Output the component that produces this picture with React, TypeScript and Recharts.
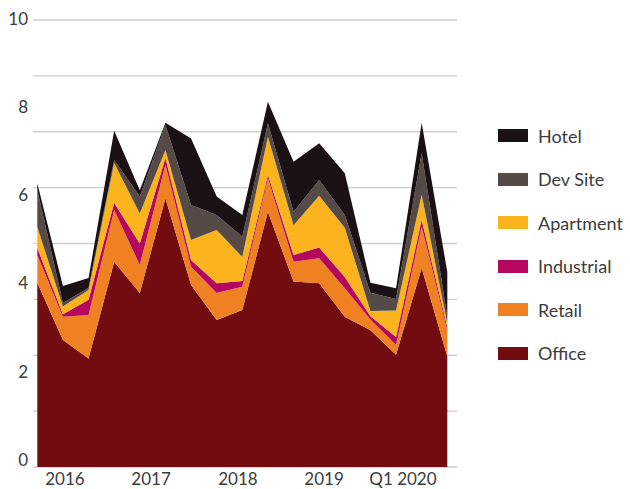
import React from "react";
import { AreaChart, Area, XAxis, YAxis, CartesianGrid } from "recharts";

const quarters = [
  "Q1 2016", "Q2 2016", "Q3 2016", "Q4 2016",
  "Q1 2017", "Q2 2017", "Q3 2017", "Q4 2017",
  "Q1 2018", "Q2 2018", "Q3 2018", "Q4 2018",
  "Q1 2019", "Q2 2019", "Q3 2019", "Q4 2019",
  "Q1 2020",
];
const office = [4.12, 2.84, 2.43, 4.59, 3.89, 6.01, 4.07, 3.29, 3.51, 5.71, 4.15, 4.11, 3.36, 3.06, 2.51, 4.45, 2.47];
const retail = [0.62, 0.52, 0.97, 1.16, 0.63, 0.75, 0.41, 0.6, 0.52, 0.75, 0.44, 0.56, 0.64, 0.24, 0.22, 0.93, 0.59];
const industrial = [0.16, 0.06, 0.34, 0.16, 0.48, 0.15, 0.15, 0.22, 0.13, 0.07, 0.15, 0.24, 0.25, 0.07, 0.18, 0.15, 0.07];
const apartment = [0.47, 0.17, 0.22, 0.89, 0.67, 0.18, 0.45, 1.19, 0.54, 0.86, 0.67, 1.16, 1.1, 0.12, 0.59, 0.56, 0.08];
const devSite = [0.83, 0.08, 0.05, 0.07, 0.38, 0.56, 0.78, 0.34, 0.45, 0.3, 0.3, 0.35, 0.29, 0.41, 0.26, 0.93, 0.15];
const hotel = [0.15, 0.38, 0.22, 0.65, 0.14, 0.05, 1.49, 0.41, 0.49, 0.48, 1.12, 0.82, 0.93, 0.22, 0.24, 0.68, 1.0];

const xTickLabels = ["2016", "2017", "2018", "2019", "Q1 2020"];
const xTickPositions = [1.08, 4.44, 7.83, 11.19, 14.27];
const yTicks = [0, 2, 4, 6, 8, 10];
const gridValues = [0, 1.25, 2.5, 3.75, 5, 6.25, 7.5, 8.75, 10];

const series = [
  { key: "office", name: "Office", color: "#730C10", values: office },
  { key: "retail", name: "Retail", color: "#F08122", values: retail },
  { key: "industrial", name: "Industrial", color: "#B3085E", values: industrial },
  { key: "apartment", name: "Apartment", color: "#FBB41E", values: apartment },
  { key: "devSite", name: "Dev Site", color: "#554A46", values: devSite },
  { key: "hotel", name: "Hotel", color: "#1B1014", values: hotel },
];

const data = quarters.map((label, i) => {
  const row: Record<string, number | string> = { q: i, label };
  series.forEach((s) => {
    row[s.key] = s.values[i];
  });
  return row;
});

const FONT = "Lato, 'Open Sans', sans-serif";
const TEXT = "#3b3b3b";

const YTick = (props: any) => {
  const { x, y, payload } = props;
  const v = payload.value as number;
  const dy = -7.5 + 0.55 * v;
  return (
    <text x={x} y={y + dy} textAnchor="end" dominantBaseline="central" fill={TEXT} fontFamily={FONT} fontSize={17}>
      {v}
    </text>
  );
};

const XTick = (props: any) => {
  const { x, y, payload } = props;
  const idx = xTickPositions.indexOf(payload.value);
  return (
    <text x={x} y={y} dy={18} textAnchor="middle" fill={TEXT} fontFamily={FONT} fontSize={17}>
      {idx >= 0 ? xTickLabels[idx] : ""}
    </text>
  );
};

export default function App() {
  const legendItems = [...series].reverse();
  return (
    <div style={{ position: "absolute", left: 0, top: 0, width: 630, height: 489, background: "#fff" }}>
      <AreaChart
        width={630}
        height={489}
        data={data}
        margin={{ top: 20, right: 173, bottom: 0, left: 0 }}
      >
        <CartesianGrid
          vertical={false}
          horizontalValues={gridValues}
          stroke="#cfcfcf"
          strokeWidth={1.3}
        />
        <XAxis
          type="number"
          dataKey="q"
          domain={[0, 16]}
          ticks={xTickPositions}
          interval={0}
          padding={{ left: 4.3, right: 9.7 }}
          axisLine={false}
          tickLine={false}
          tickSize={0}
          tickMargin={0}
          height={22}
          tick={<XTick />}
        />
        <YAxis
          domain={[0, 10]}
          ticks={yTicks}
          interval={0}
          axisLine={false}
          tickLine={false}
          tickSize={0}
          tickMargin={5}
          width={33}
          tick={<YTick />}
        />
        {series.map((s) => (
          <Area
            key={s.key}
            type="linear"
            dataKey={s.key}
            name={s.name}
            stackId="1"
            stroke="none"
            fill={s.color}
            fillOpacity={1}
            isAnimationActive={false}
            dot={false}
            activeDot={false}
          />
        ))}
      </AreaChart>
      <div style={{ position: "absolute", left: 498, top: 114, fontFamily: FONT }}>
        {legendItems.map((s) => (
          <div key={s.key} style={{ display: "flex", alignItems: "center", height: 43.5 }}>
            <div style={{ width: 30, height: 13, background: s.color, marginRight: 10 }} />
            <span style={{ fontSize: 18, color: TEXT, lineHeight: "18px" }}>{s.name}</span>
          </div>
        ))}
      </div>
    </div>
  );
}
